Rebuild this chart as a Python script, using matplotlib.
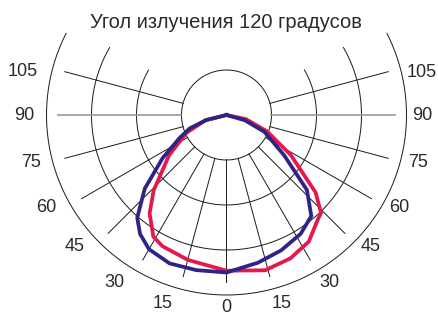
import numpy as np
import matplotlib
matplotlib.use("Agg")
import matplotlib.pyplot as plt

# ---- data (relative intensity, % of outer ring) ----
# angles in degrees: 0 = down, negative = left, positive = right
blue_theta = [-90, -76, -70, -64, -56, -48, -41, -36, -30, -21, -11, 0,
              12, 22, 32, 40, 47, 55, 66, 74, 90]
blue_r = [0, 11.7, 21.7, 28.9, 42.8, 61.1, 75.6, 81.7, 86.1, 88.3, 87.8, 87.5,
          83.9, 81.1, 77.8, 73.3, 61.1, 39.2, 23.1, 10.6, 0]

red_theta = [-90, -76, -66, -55, -44, -38, -31, -26, -15, 0,
             14, 24, 33, 41, 44, 49, 58, 68, 78, 90]
red_r = [0, 12.0, 24.4, 38.9, 58.3, 69.4, 78.9, 81.1, 83.3, 86.5,
         88.9, 87.2, 83.9, 77.2, 75.6, 65.6, 42.2, 24.4, 11.0, 0]

ring_r = [25, 50, 75, 100]
spoke_angles = [-105, -90, -75, -60, -45, -30, -15, 0, 15, 30, 45, 60, 75, 90, 105]
tick_labels = ["105", "90", "75", "60", "45", "30", "15", "0",
               "15", "30", "45", "60", "75", "90", "105"]
title = "Угол излучения 120 градусов"

# ---- layout ----
W, H = 439, 314
PX = 1.8            # pixels per unit (100 units = 180 px)
cx, cy = 226.5, 115  # centre, pixels from top-left
RMAX_PX = 230

fig = plt.figure(figsize=(W / 100, H / 100), dpi=100)
fig.patch.set_facecolor("white")
ax = fig.add_axes([(cx - RMAX_PX) / W, (H - cy - RMAX_PX) / H,
                   2 * RMAX_PX / W, 2 * RMAX_PX / H], projection="polar")
ax.set_theta_zero_location("S")
ax.set_theta_direction(1)
ax.set_rlim(0, RMAX_PX / PX)
ax.set_axis_off()

grid_col = "#1a1a1a"
# inner full circle
t = np.linspace(0, 2 * np.pi, 400)
ax.plot(t, np.full_like(t, ring_r[0]), color=grid_col, lw=0.7, zorder=1)
# arcs
for rr, span in zip(ring_r[1:], [120, 120, 117]):
    ta = np.deg2rad(np.linspace(-span, span, 300))
    ax.plot(ta, np.full_like(ta, rr), color=grid_col, lw=0.7, zorder=1)
# spokes
for a in spoke_angles:
    th = np.deg2rad(a)
    if abs(a) == 90:
        ax.plot([th, th], [ring_r[0], 93.5], color="#9a9a9a", lw=1.2, zorder=1)
    else:
        ax.plot([th, th], [ring_r[0], 93.0], color=grid_col, lw=0.7, zorder=1)

# labels (positions in px relative to centre, polar)
lab_theta = [-102, -90, -76.2, -62.9, -49, -33.8, -18.8, 0,
             16.3, 31.5, 47.5, 62, 75.9, 90, 102.4]
lab_rpx = [208, 202, 201, 202, 201, 201, 199, 192,
           196, 197, 195, 196, 197, 196, 200]
for a, rp, s in zip(lab_theta, lab_rpx, tick_labels):
    ax.text(np.deg2rad(a), rp / PX, s, ha="center", va="center",
            fontsize=13, color="#2a2a2a", family="Liberation Sans")

# curves
ax.plot(np.deg2rad(red_theta), red_r, color="#E5174C", lw=2.7,
        solid_joinstyle="miter", zorder=3)
ax.plot(np.deg2rad(blue_theta), blue_r, color="#2E2386", lw=2.7,
        solid_joinstyle="miter", zorder=4)

fig.text(226 / W, 1 - 22 / H, title, ha="center", va="center",
         fontsize=14.5, color="#2a2a2a", family="Liberation Sans")

fig.savefig("out.png", dpi=100, facecolor="white")
